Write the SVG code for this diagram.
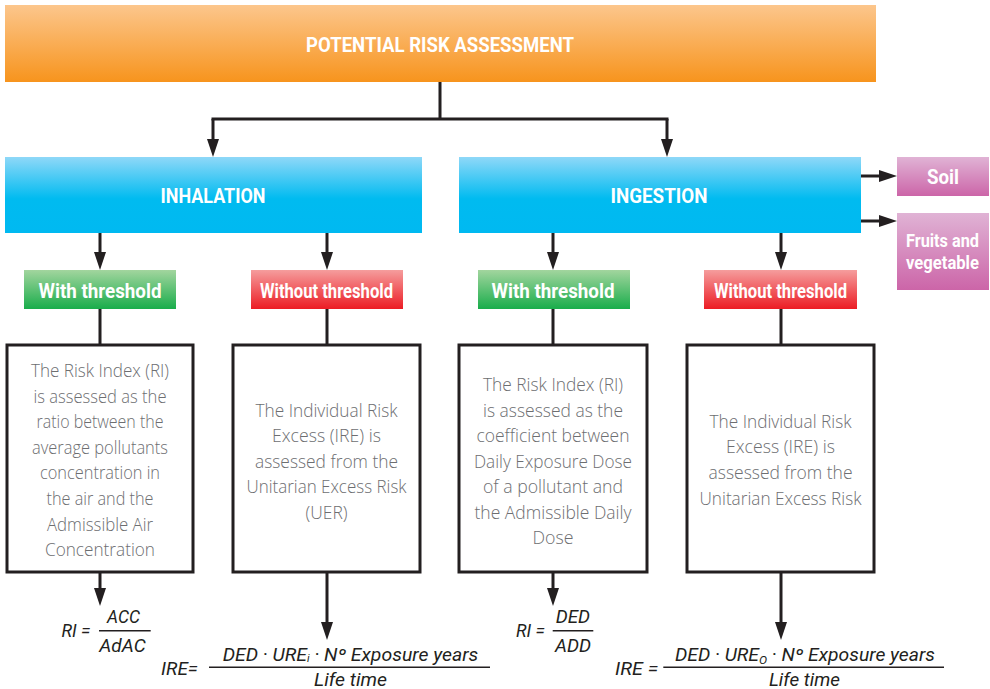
<svg xmlns="http://www.w3.org/2000/svg" width="990" height="689" viewBox="0 0 990 689">
<style>
.hd{font-family:Roboto,"Liberation Sans",sans-serif;font-weight:700;fill:#fff;text-anchor:middle;font-size:21px}
.hs{font-size:19px}
.bx{fill:#fff;stroke:#231f20;stroke-width:3}
.tx{font-family:"Open Sans","Liberation Sans",sans-serif;font-weight:300;fill:#6d6e71;text-anchor:middle;font-size:17.5px}
.fm{font-family:Roboto,"Liberation Sans",sans-serif;font-style:italic;fill:#231f20;font-size:17.5px}
.cn{fill:none;stroke:#231f20;stroke-width:3}
.ar{marker-end:url(#ah)}
.fl{stroke:#231f20;stroke-width:1.4}
</style>
<defs>
<marker id="ah" markerUnits="userSpaceOnUse" markerWidth="18" markerHeight="12" refX="8" refY="6" orient="auto">
<path d="M0,0 L18,6 L0,12 z" fill="#231f20"/>
</marker>
<linearGradient id="gOr" x1="0" y1="0" x2="0" y2="1"><stop offset="0" stop-color="#fcc68c"/><stop offset="1" stop-color="#f7941d"/></linearGradient>
<linearGradient id="gBl" x1="0" y1="0" x2="0" y2="1"><stop offset="0" stop-color="#8fd8f8"/><stop offset="0.55" stop-color="#00bbf0"/><stop offset="1" stop-color="#00b9f1"/></linearGradient>
<linearGradient id="gGr" x1="0" y1="0" x2="0" y2="1"><stop offset="0" stop-color="#a2d59e"/><stop offset="1" stop-color="#19ad4b"/></linearGradient>
<linearGradient id="gRd" x1="0" y1="0" x2="0" y2="1"><stop offset="0" stop-color="#f59d9d"/><stop offset="1" stop-color="#ec1c24"/></linearGradient>
<linearGradient id="gPk" x1="0" y1="0" x2="0" y2="1"><stop offset="0" stop-color="#e0b3d5"/><stop offset="1" stop-color="#cc65a8"/></linearGradient>
</defs>

<g id="connectors">
<path class="cn" d="M440,82 V119 M211.5,119 H668.5"/>
<path class="cn ar" d="M213,119 V147"/>
<path class="cn ar" d="M667,119 V147"/>
<path class="cn ar" d="M100,233 V260"/>
<path class="cn ar" d="M327,233 V260"/>
<path class="cn ar" d="M553,233 V260"/>
<path class="cn ar" d="M781,233 V260"/>
<path class="cn ar" d="M861,176 H887"/>
<path class="cn ar" d="M861,221 H887"/>
<path class="cn" d="M100,309 V345 M327,309 V345 M553,309 V345 M781,309 V345"/>
<path class="cn ar" d="M100,572 V596"/>
<path class="cn ar" d="M327,572 V630"/>
<path class="cn ar" d="M553,572 V596"/>
<path class="cn ar" d="M781,572 V630"/>
</g>

<g id="potential-risk">
<rect x="5" y="5" width="871" height="77" fill="url(#gOr)"/>
<text class="hd" x="440" y="52" textLength="268" lengthAdjust="spacingAndGlyphs">POTENTIAL RISK ASSESSMENT</text>
</g>

<g id="inhalation">
<rect x="5" y="157" width="417" height="76" fill="url(#gBl)"/>
<text class="hd" x="213" y="203" textLength="105" lengthAdjust="spacingAndGlyphs">INHALATION</text>
</g>

<g id="ingestion">
<rect x="459" y="157" width="402" height="76" fill="url(#gBl)"/>
<text class="hd" x="659" y="203" textLength="97" lengthAdjust="spacingAndGlyphs">INGESTION</text>
</g>

<g id="soil">
<rect x="897" y="157" width="92" height="39" fill="url(#gPk)"/>
<text class="hd" x="943" y="184" textLength="32" lengthAdjust="spacingAndGlyphs">Soil</text>
</g>

<g id="fruits">
<rect x="897" y="213" width="92" height="77" fill="url(#gPk)"/>
<text class="hd hs" x="942.5" y="246.5" textLength="73" lengthAdjust="spacingAndGlyphs">Fruits and</text>
<text class="hd hs" x="942.5" y="269" textLength="73" lengthAdjust="spacingAndGlyphs">vegetable</text>
</g>

<g id="inh-with">
<rect x="24" y="270" width="152" height="39" fill="url(#gGr)"/>
<text class="hd" x="100" y="297.5" textLength="123" lengthAdjust="spacingAndGlyphs">With threshold</text>
</g>

<g id="inh-without">
<rect x="251" y="270" width="152" height="39" fill="url(#gRd)"/>
<text class="hd" x="326.5" y="297.5" textLength="133" lengthAdjust="spacingAndGlyphs">Without threshold</text>
</g>

<g id="ing-with">
<rect x="478" y="270" width="152" height="39" fill="url(#gGr)"/>
<text class="hd" x="553" y="297.5" textLength="123" lengthAdjust="spacingAndGlyphs">With threshold</text>
</g>

<g id="ing-without">
<rect x="704" y="270" width="153" height="39" fill="url(#gRd)"/>
<text class="hd" x="780.5" y="297.5" textLength="133" lengthAdjust="spacingAndGlyphs">Without threshold</text>
</g>

<g id="box-inh-with">
<rect class="bx" x="7" y="345" width="186" height="227"/>
<text class="tx" x="100" y="377" textLength="138" lengthAdjust="spacingAndGlyphs">The Risk Index (RI)</text>
<text class="tx" x="100" y="402.6" textLength="133" lengthAdjust="spacingAndGlyphs">is assessed as the</text>
<text class="tx" x="100" y="428.2" textLength="127" lengthAdjust="spacingAndGlyphs">ratio between the</text>
<text class="tx" x="100" y="453.8" textLength="136" lengthAdjust="spacingAndGlyphs">average pollutants</text>
<text class="tx" x="100" y="479.4" textLength="120" lengthAdjust="spacingAndGlyphs">concentration in</text>
<text class="tx" x="100" y="505" textLength="107" lengthAdjust="spacingAndGlyphs">the air and the</text>
<text class="tx" x="100" y="530.6" textLength="106" lengthAdjust="spacingAndGlyphs">Admissible Air</text>
<text class="tx" x="100" y="556.2" textLength="110" lengthAdjust="spacingAndGlyphs">Concentration</text>
</g>

<g id="box-inh-without">
<rect class="bx" x="233" y="345" width="187" height="227"/>
<text class="tx" x="326.5" y="416.5" textLength="142" lengthAdjust="spacingAndGlyphs">The Individual Risk</text>
<text class="tx" x="326.5" y="442" textLength="109" lengthAdjust="spacingAndGlyphs">Excess (IRE) is</text>
<text class="tx" x="326.5" y="467.5" textLength="143" lengthAdjust="spacingAndGlyphs">assessed from the</text>
<text class="tx" x="326.5" y="493" textLength="160" lengthAdjust="spacingAndGlyphs">Unitarian Excess Risk</text>
<text class="tx" x="326.5" y="518.7" textLength="42" lengthAdjust="spacingAndGlyphs">(UER)</text>
</g>

<g id="box-ing-with">
<rect class="bx" x="459" y="345" width="188" height="227"/>
<text class="tx" x="553" y="391" textLength="140" lengthAdjust="spacingAndGlyphs">The Risk Index (RI)</text>
<text class="tx" x="553" y="416.5" textLength="140" lengthAdjust="spacingAndGlyphs">is assessed as the</text>
<text class="tx" x="553" y="442" textLength="153" lengthAdjust="spacingAndGlyphs">coefficient between</text>
<text class="tx" x="553" y="467.5" textLength="158" lengthAdjust="spacingAndGlyphs">Daily Exposure Dose</text>
<text class="tx" x="553" y="493" textLength="140" lengthAdjust="spacingAndGlyphs">of a pollutant and</text>
<text class="tx" x="553" y="518.5" textLength="157" lengthAdjust="spacingAndGlyphs">the Admissible Daily</text>
<text class="tx" x="553" y="544" textLength="41" lengthAdjust="spacingAndGlyphs">Dose</text>
</g>

<g id="box-ing-without">
<rect class="bx" x="687" y="345" width="187" height="227"/>
<text class="tx" x="780.5" y="427.5" textLength="142" lengthAdjust="spacingAndGlyphs">The Individual Risk</text>
<text class="tx" x="780.5" y="453" textLength="109" lengthAdjust="spacingAndGlyphs">Excess (IRE) is</text>
<text class="tx" x="780.5" y="479" textLength="144" lengthAdjust="spacingAndGlyphs">assessed from the</text>
<text class="tx" x="780.5" y="504.5" textLength="162" lengthAdjust="spacingAndGlyphs">Unitarian Excess Risk</text>
</g>

<g id="formula-inh-ri">
<text class="fm" x="61.5" y="637" textLength="29" lengthAdjust="spacingAndGlyphs">RI =</text>
<line class="fl" x1="99" y1="630.7" x2="150.7" y2="630.7"/>
<text class="fm" x="107" y="623" textLength="33" lengthAdjust="spacingAndGlyphs">ACC</text>
<text class="fm" x="99.3" y="651.5" textLength="46.4" lengthAdjust="spacingAndGlyphs">AdAC</text>
</g>

<g id="formula-inh-ire">
<text class="fm" x="161" y="675" textLength="37" lengthAdjust="spacingAndGlyphs">IRE=</text>
<line class="fl" x1="209" y1="667.3" x2="490" y2="667.3"/>
<text class="fm" x="222.7" y="661" textLength="255.6" lengthAdjust="spacingAndGlyphs">DED · URE<tspan font-size="10" dy="1">i</tspan><tspan dy="-1"> · Nº Exposure years</tspan></text>
<text class="fm" x="314" y="686" textLength="73" lengthAdjust="spacingAndGlyphs">Life time</text>
</g>

<g id="formula-ing-ri">
<text class="fm" x="516" y="637" textLength="29" lengthAdjust="spacingAndGlyphs">RI =</text>
<line class="fl" x1="552.7" y1="630.7" x2="593.3" y2="630.7"/>
<text class="fm" x="555.7" y="623" textLength="34.3" lengthAdjust="spacingAndGlyphs">DED</text>
<text class="fm" x="555" y="651.5" textLength="36" lengthAdjust="spacingAndGlyphs">ADD</text>
</g>

<g id="formula-ing-ire">
<text class="fm" x="615" y="675" textLength="43.3" lengthAdjust="spacingAndGlyphs">IRE =</text>
<line class="fl" x1="663.3" y1="667.3" x2="944" y2="667.3"/>
<text class="fm" x="675" y="661" textLength="260" lengthAdjust="spacingAndGlyphs">DED · URE<tspan font-size="11" dy="3">O</tspan><tspan dy="-3"> · Nº Exposure years</tspan></text>
<text class="fm" x="769" y="686" textLength="71" lengthAdjust="spacingAndGlyphs">Life time</text>
</g>
</svg>
